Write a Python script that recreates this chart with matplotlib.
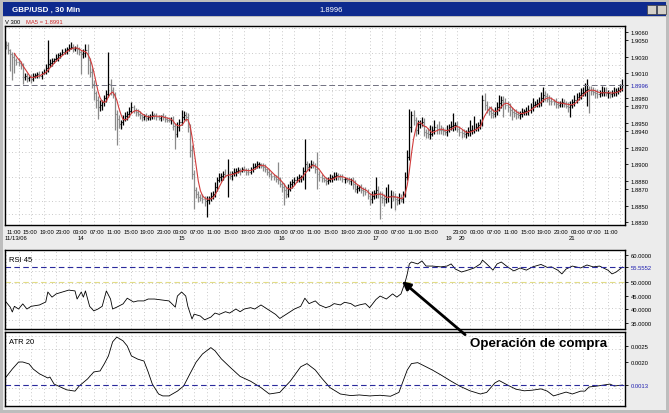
import numpy as np
import pandas as pd
import matplotlib
matplotlib.use("Agg")
import matplotlib.pyplot as plt
from matplotlib.patches import Rectangle
from matplotlib.ticker import MultipleLocator

plt.rcParams['font.family'] = ['Liberation Sans', 'DejaVu Sans']

# GBP/USD 30 min bars, close in pips above 1.8800
close_pips = [244, 238, 233, 230, 226, 224, 222, 220, 205, 207,
              204, 205, 203, 207, 208, 209, 207, 211, 212, 216,
              221, 223, 225, 227, 229, 232, 234, 236, 238, 240,
              241, 242, 240, 241, 239, 236, 233, 235, 238, 226,
              212, 197, 186, 178, 169, 172, 175, 180, 185, 197,
              190, 185, 161, 155, 149, 151, 155, 158, 161, 165,
              169, 166, 163, 161, 159, 157, 158, 156, 157, 158,
              160, 159, 157, 156, 158, 157, 155, 154, 153, 153,
              146, 137, 145, 151, 157, 160, 157, 145, 117, 88,
              69, 64, 60, 59, 58, 55, 57, 59, 61, 64,
              72, 81, 84, 86, 88, 87, 88, 86, 89, 90,
              92, 93, 92, 94, 93, 91, 90, 94, 97, 98,
              100, 100, 98, 97, 94, 90, 88, 86, 84, 82,
              81, 76, 72, 69, 64, 70, 76, 79, 81, 83,
              84, 84, 92, 100, 97, 98, 100, 99, 94, 88,
              85, 83, 81, 80, 81, 83, 84, 86, 87, 85,
              84, 82, 82, 81, 80, 81, 76, 70, 71, 72,
              69, 67, 66, 62, 58, 62, 65, 69, 64, 60,
              59, 58, 60, 62, 63, 60, 58, 57, 59, 58,
              64, 84, 109, 145, 160, 153, 141, 149, 150, 151,
              139, 138, 136, 137, 141, 145, 143, 142, 141, 140,
              139, 142, 145, 146, 147, 147, 143, 139, 138, 137,
              138, 140, 141, 142, 143, 145, 147, 149, 178, 172,
              167, 164, 162, 161, 165, 169, 174, 178, 175, 172,
              169, 166, 163, 162, 161, 160, 161, 163, 164, 165,
              166, 169, 172, 173, 174, 175, 180, 184, 182, 179,
              177, 176, 175, 173, 172, 174, 175, 173, 171, 169,
              172, 175, 178, 181, 184, 186, 188, 190, 191, 190,
              189, 188, 186, 185, 186, 187, 188, 186, 186, 185,
              186, 188, 189, 190, 192, 196]
up_wick = [3, 4, 2, 3, 5, 2, 4, 3, 2, 4,
           3, 2, 4, 3, 2, 3, 4, 2, 3, 5,
           29, 4, 3, 2, 4, 3, 2, 4, 3, 2,
           4, 6, 3, 2, 4, 3, 2, 4, 7, 7,
           3, 4, 5, 3, 4, 6, 3, 4, 5, 39,
           6, 4, 3, 5, 4, 3, 4, 5, 3, 4,
           6, 3, 2, 4, 3, 2, 3, 4, 2, 3,
           4, 2, 3, 3, 2, 4, 3, 2, 3, 4,
           5, 4, 6, 4, 9, 4, 3, 5, 4, 6,
           5, 4, 3, 4, 5, 3, 4, 3, 5, 4,
           6, 4, 5, 3, 4, 6, 18, 4, 3, 5,
           3, 4, 2, 3, 4, 3, 5, 3, 4, 3,
           4, 3, 2, 4, 3, 2, 4, 3, 2, 3,
           21, 4, 3, 5, 4, 6, 4, 3, 4, 3,
           4, 3, 5, 30, 4, 3, 5, 4, 3, 21,
           4, 3, 2, 4, 3, 5, 3, 4, 3, 2,
           3, 4, 2, 3, 4, 2, 3, 5, 4, 3,
           4, 3, 5, 4, 3, 6, 4, 15, 5, 4,
           6, 5, 12, 14, 6, 4, 5, 4, 6, 5,
           4, 6, 8, 22, 5, 6, 4, 5, 4, 6,
           5, 4, 6, 10, 5, 8, 4, 9, 5, 4,
           3, 5, 4, 6, 15, 4, 5, 3, 4, 5,
           4, 5, 12, 6, 15, 5, 4, 6, 6, 8,
           5, 4, 6, 5, 4, 6, 10, 5, 4, 5,
           4, 5, 3, 4, 5, 3, 4, 5, 3, 4,
           6, 5, 8, 4, 5, 6, 7, 9, 5, 4,
           5, 4, 3, 5, 4, 3, 5, 4, 3, 4,
           5, 4, 6, 5, 4, 6, 5, 8, 12, 4,
           5, 4, 3, 5, 4, 8, 6, 5, 4, 3,
           4, 5, 3, 4, 5, 7]
dn_wick = [4, 5, 20, 28, 15, 4, 3, 5, 8, 3,
           4, 3, 5, 2, 3, 4, 3, 4, 2, 3,
           4, 3, 4, 3, 2, 4, 3, 2, 3, 4,
           3, 2, 4, 3, 5, 4, 24, 4, 5, 17,
           6, 5, 8, 10, 14, 5, 6, 4, 5, 4,
           6, 5, 20, 32, 5, 6, 4, 3, 5, 4,
           3, 4, 5, 3, 4, 5, 3, 4, 3, 4,
           3, 4, 3, 2, 4, 3, 4, 3, 2, 4,
           5, 19, 4, 5, 3, 4, 5, 6, 8, 6,
           23, 5, 6, 4, 5, 6, 19, 5, 4, 3,
           4, 5, 3, 4, 5, 3, 27, 4, 5, 3,
           4, 3, 5, 2, 3, 4, 3, 2, 4, 3,
           3, 4, 3, 5, 4, 3, 4, 5, 3, 4,
           5, 4, 6, 18, 5, 4, 3, 5, 4, 3,
           4, 5, 3, 22, 4, 5, 3, 4, 5, 18,
           5, 4, 3, 5, 4, 3, 4, 3, 5, 4,
           3, 4, 5, 3, 4, 5, 6, 4, 5, 3,
           4, 5, 3, 4, 7, 5, 4, 6, 5, 26,
           6, 8, 5, 6, 15, 5, 14, 6, 5, 4,
           5, 4, 3, 4, 6, 5, 7, 4, 5, 4,
           5, 6, 4, 5, 3, 4, 6, 5, 4, 5,
           4, 5, 3, 4, 6, 5, 4, 5, 6, 4,
           5, 4, 6, 5, 4, 3, 5, 4, 3, 6,
           5, 4, 6, 5, 4, 5, 4, 6, 18, 5,
           6, 8, 10, 5, 6, 4, 5, 4, 3, 4,
           5, 4, 5, 3, 4, 5, 4, 5, 6, 4,
           5, 4, 3, 5, 4, 3, 5, 4, 3, 6,
           12, 4, 5, 4, 3, 5, 4, 6, 20, 28,
           5, 4, 6, 5, 4, 3, 5, 4, 6, 5,
           4, 3, 5, 4, 3, 3]
open0_pips = 246

rsi_bar = [0, 2, 3, 4, 6, 8, 10, 12, 16, 19,
           20, 22, 24, 27, 30, 33, 34, 36, 37, 38,
           40, 42, 44, 46, 48, 50, 51, 53, 56, 58,
           61, 63, 66, 68, 71, 75, 78, 81, 82, 84,
           86, 87, 89, 90, 93, 95, 98, 100, 102, 105,
           107, 110, 112, 114, 117, 119, 122, 124, 126, 129,
           131, 133, 136, 138, 141, 143, 145, 148, 150, 153,
           155, 157, 160, 162, 165, 167, 169, 172, 174, 177,
           179, 182, 185, 187, 189, 191, 192, 193, 194, 197,
           199, 201, 204, 208, 211, 213, 215, 218, 221, 224,
           227, 228, 230, 233, 235, 237, 240, 243, 246, 249,
           252, 256, 259, 261, 264, 266, 268, 271, 275, 278,
           281, 284, 288, 290, 292, 295]
rsi_val = [42.6, 40.7, 38.9, 41.0, 40.0, 41.9, 40.0, 41.0, 41.5, 42.6,
           46.3, 44.4, 45.6, 46.3, 47.0, 46.7, 43.7, 46.3, 44.4, 46.7,
           41.0, 39.3, 40.0, 41.0, 46.7, 43.7, 40.0, 40.7, 41.9, 44.0,
           42.6, 43.0, 43.0, 43.7, 43.7, 43.3, 43.0, 40.7, 44.8, 46.3,
           44.8, 41.0, 36.3, 38.1, 37.4, 36.0, 37.0, 38.5, 38.0, 39.0,
           38.5, 40.0, 39.0, 40.0, 40.5, 40.0, 41.5, 40.5, 39.5, 38.0,
           36.5, 37.5, 39.0, 40.0, 41.0, 44.0, 42.0, 43.0, 41.5, 40.5,
           41.0, 42.0, 41.5, 42.5, 42.0, 41.0, 41.5, 42.0, 40.5, 43.5,
           44.8, 43.7, 45.6, 44.4, 45.6, 50.0, 53.0, 56.7, 57.4, 56.7,
           57.8, 55.9, 55.9, 55.6, 55.9, 56.7, 54.8, 53.7, 54.4, 55.2,
           56.7, 58.1, 56.7, 54.4, 56.7, 57.4, 55.6, 54.1, 55.2, 54.4,
           55.6, 56.5, 55.4, 55.6, 54.4, 53.0, 54.8, 55.9, 55.2, 56.3,
           55.6, 55.9, 54.4, 53.0, 53.7, 55.5552]

atr_bar = [0, 3, 6, 8, 11, 13, 16, 20, 21, 23,
           26, 29, 33, 35, 39, 42, 45, 47, 49, 51,
           53, 56, 58, 60, 63, 66, 68, 70, 73, 75,
           78, 82, 85, 88, 91, 94, 98, 100, 103, 107,
           112, 117, 122, 126, 131, 136, 141, 144, 148, 151,
           155, 160, 165, 169, 174, 179, 184, 188, 190, 192,
           194, 197, 201, 204, 208, 213, 217, 222, 227, 230,
           234, 236, 240, 244, 248, 252, 256, 259, 262, 265,
           268, 271, 275, 277, 279, 283, 286, 289, 291, 295]
# ATR in units of 0.0001
atr_val = [15.3, 17.8, 20.0, 20.0, 19.4, 17.8, 16.3, 15.0, 15.3, 13.1,
           12.2, 11.3, 10.9, 12.5, 14.7, 16.9, 17.2, 19.4, 21.9, 26.3,
           27.8, 26.6, 25.0, 21.9, 20.9, 20.3, 16.9, 13.1, 10.0, 9.4,
           9.4, 10.9, 12.5, 16.3, 20.0, 22.5, 24.5, 23.5, 21.0, 18.5,
           15.5, 14.0, 12.0, 10.0, 10.5, 14.0, 18.5, 19.5, 17.5, 15.0,
           12.0, 10.0, 9.5, 9.7, 9.4, 9.6, 9.3, 10.5, 14.0, 17.5,
           19.5, 19.8, 18.5, 17.5, 16.0, 14.0, 12.5, 11.0, 10.0, 10.5,
           13.5, 14.2, 12.8, 11.5, 11.0, 11.2, 11.6, 10.9, 9.4, 10.0,
           10.6, 10.0, 10.9, 10.9, 12.2, 12.5, 12.8, 13.1, 12.5, 12.8]

price_ticks = [1.9060, 1.9050, 1.9030, 1.9010, 1.8980, 1.8970, 1.8950,
               1.8940, 1.8920, 1.8900, 1.8880, 1.8870, 1.8850, 1.8830]
rsi_ticks = [60, 50, 45, 40, 35]
atr_ticks = [0.0025, 0.0020]
rsi_mid = 50
day_labels = ["11/13/06", "14", "15", "16", "17", "19", "20", "21"]
day_bars = [0, 36, 84, 132, 177, 212, 218, 271]

# ---- figure ----
W, H = 669, 414
fig = plt.figure(figsize=(W / 100, H / 100), dpi=100)
fig.patch.set_facecolor('#bdbdbd')

def fx(x):
    return x / W

def fy(y):
    return 1 - y / H

def box(x0, y0, x1, y1):
    return [fx(x0), fy(y1), (x1 - x0) / W, (y1 - y0) / H]

fig.add_artist(Rectangle((fx(3), fy(411)), 663 / W, 393 / H, transform=fig.transFigure,
                         facecolor='#ececec', edgecolor='none', zorder=-2))
fig.add_artist(Rectangle((fx(3), fy(17)), 663 / W, 14 / H, transform=fig.transFigure,
                         facecolor='#0e2a8e', edgecolor='none', zorder=-1))
for bx in (647, 657):
    fig.add_artist(Rectangle((fx(bx), fy(15)), 9 / W, 9 / H, transform=fig.transFigure,
                             facecolor='#d4d0c8', edgecolor='#404040', lw=0.5, zorder=-1))

c = 1.88 + np.array(close_pips) / 10000
o = np.r_[1.88 + open0_pips / 10000, c[:-1]]
hi = np.maximum(o, c) + np.array(up_wick) / 10000
lo = np.minimum(o, c) - np.array(dn_wick) / 10000
x = np.arange(len(c))
ma5 = pd.Series(c).rolling(5).mean()

fig.text(fx(12), fy(10.5), "GBP/USD , 30 Min", color='white', fontsize=5.8,
         fontweight='bold', va='center')
fig.text(fx(331), fy(10.5), f"{c[-1]:.4f}", color='white', fontsize=5.5, va='center', ha='center')
fig.text(fx(5), fy(22), "V 300", fontsize=4.2, va='center')
fig.text(fx(26), fy(22), f"MA5 = {ma5.iloc[-1]:.4f}", fontsize=4.2, va='center', color='#cc2a2a')

times = pd.DatetimeIndex(list(pd.date_range("2006-11-13 11:00", "2006-11-17 20:30", freq="30min")) +
                         list(pd.date_range("2006-11-19 22:00", "2006-11-21 15:30", freq="30min")))
tick_idx = np.flatnonzero((times.minute == 0) & np.isin(times.hour, [3, 7, 11, 15, 19, 23]))
tick_idx = tick_idx[np.r_[np.diff(tick_idx) >= 7, True]]
tick_idx = tick_idx[tick_idx < len(x) - 6]

ax = fig.add_axes(box(5, 27, 625, 226))
ax_rsi = fig.add_axes(box(5, 251, 625, 330))
ax_atr = fig.add_axes(box(5, 333, 625, 407))

grid_kw = dict(which='minor', color='#b8b8b8', linestyle=(0, (1, 3)), linewidth=0.6)
for a in (ax, ax_rsi, ax_atr):
    a.set_facecolor('white')
    a.set_xlim(-0.5, 296.2)
    a.xaxis.set_minor_locator(MultipleLocator(6))
    a.grid(**grid_kw)
    a.set_axisbelow(True)
    for s in a.spines.values():
        s.set_color('black')
        s.set_linewidth(1)
    a.tick_params(axis='y', which='major', direction='out', length=2.5, width=0.6,
                  labelsize=4.2, pad=1.5, right=True, left=False, labelright=True, labelleft=False)
    a.tick_params(which='minor', length=0)

# price bars
col = np.where(c >= o, 'black', '#8a8a8a')
ax.vlines(x, lo, hi, colors=col, lw=0.9)
ax.hlines(o, x - 0.45, x, colors=col, lw=0.8)
ax.hlines(c, x, x + 0.45, colors=col, lw=0.8)
ax.plot(x, ma5, color='#d23c3c', lw=0.8)
ax.axhline(c[-1], color='#707080', ls=(0, (6, 3)), lw=0.7)
ax.set_ylim(1.88264, 1.90673)
ax.yaxis.set_minor_locator(MultipleLocator(0.0015))
pt = price_ticks + [round(c[-1], 4)]
ax.set_yticks(pt)
ax.set_yticklabels([f"{v:.4f}" for v in pt])
ax.get_yticklabels()[-1].set_color('#2020b0')
ax.set_xticks(tick_idx)
ax.set_xticklabels([times[i].strftime("%H:%M") for i in tick_idx])
ax.tick_params(axis='x', which='major', length=0, labelsize=4.2, pad=3)
for lbl in ax.get_xticklabels():
    lbl.set_ha('left')
for lab, b in zip(day_labels, day_bars):
    ax.text(b - 0.5 if b == 0 else b, -0.065, lab, transform=ax.get_xaxis_transform(),
            fontsize=4.2, va='center', ha='left' if b == 0 else 'center')

# RSI
ax_rsi.plot(rsi_bar, rsi_val, color='black', lw=0.6)
ax_rsi.axhline(rsi_val[-1], color='#2a2a9c', ls=(0, (5, 3)), lw=0.8)
ax_rsi.axhline(rsi_mid, color='#e2dc86', ls=(0, (5, 3)), lw=0.8)
ax_rsi.set_ylim(32.6, 61.85)
ax_rsi.yaxis.set_minor_locator(MultipleLocator(4.5))
rt = rsi_ticks + [rsi_val[-1]]
ax_rsi.set_yticks(rt)
ax_rsi.set_yticklabels([f"{v:.4f}" for v in rt])
ax_rsi.get_yticklabels()[-1].set_color('#2020b0')
ax_rsi.set_xticks([])
ax_rsi.text(0.007, 0.88, "RSI 45", transform=ax_rsi.transAxes, fontsize=5.5, va='center')

# ATR
atr = np.array(atr_val) / 10000
ax_atr.plot(atr_bar, atr, color='black', lw=0.6)
ax_atr.axhline(atr[-1], color='#2a2a9c', ls=(0, (5, 3)), lw=0.8)
ax_atr.set_ylim(0.000625, 0.0029375)
ax_atr.yaxis.set_minor_locator(MultipleLocator(0.0004))
at = atr_ticks + [atr[-1]]
ax_atr.set_yticks(at)
ax_atr.set_yticklabels([f"{v:.4f}" for v in at])
ax_atr.get_yticklabels()[-1].set_color('#2020b0')
ax_atr.set_xticks([])
ax_atr.text(0.007, 0.87, "ATR 20", transform=ax_atr.transAxes, fontsize=5.5, va='center')

ax_atr.annotate("Operación de compra", xy=(189.5, 50.3), xycoords=ax_rsi.transData,
                xytext=(fx(470), fy(344)), textcoords='figure fraction',
                fontsize=9.6, fontweight='bold', ha='left', va='center',
                annotation_clip=False, clip_on=False,
                arrowprops=dict(arrowstyle='-|>', color='black', lw=2, mutation_scale=12,
                                relpos=(0, 0.85), shrinkA=2, shrinkB=0))

fig.savefig("out.png", dpi=100, facecolor=fig.get_facecolor())
